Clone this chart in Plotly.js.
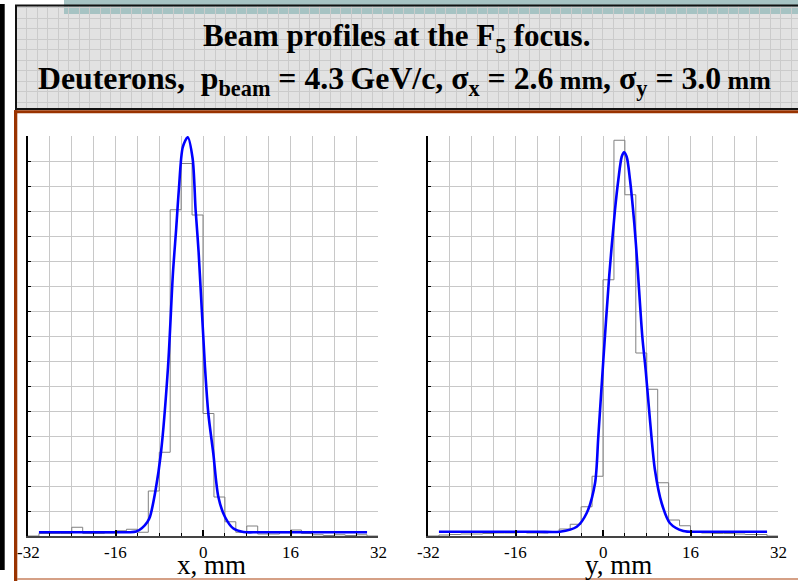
<!DOCTYPE html>
<html>
<head>
<meta charset="utf-8">
<script src="https://cdn.plot.ly/plotly-3.0.1.min.js"></script>
<style>html,body{margin:0;padding:0;background:#fff;}#chart{width:798px;height:581px;}</style>
</head>
<body>
<div id="chart"></div>
<script>
// ---- data ----
const binStart = -32;
const binWidth = 2;
const xHist = [0, 0.1, 0.1, 0.1, 0.35, 0.1, 0.1, 0.12, 0.21, 0.27, 0.15, 1.8, 3.35, 13.05, 14.9, 12.84,
               4.9, 1.56, 0.57, 0.15, 0.4, 0.08, 0.08, 0.13, 0.24, 0.1, 0.05, 0.02, 0.05, 0.02, 0.05, 0];
const yHist = [0, 0.04, 0.06, 0.08, 0.08, 0.1, 0.12, 0.12, 0.17, 0.12, 0.12, 0.15, 0.28, 0.47, 1.17, 2.39,
               10.25, 15.83, 13.65, 7.32, 5.87, 2.13, 0.64, 0.41, 0.15, 0.12, 0.1, 0.1, 0.08, 0.06, 0.06, 0];

const xFitPos = [-30, -22, -16, -13.5, -12.2, -11.2, -10.2, -9.7, -8.7, -7.7, -6.4, -5.5, -4.9, -4.4, -3.7,
                 -2.8, -1.9, -1.35, -0.8, 0.35, 0.97, 1.88, 2.8, 4.0, 5.5, 7.4, 10, 16, 22, 30];
const xFitVal = [0.15, 0.15, 0.15, 0.15, 0.18, 0.31, 0.55, 0.77, 1.8, 3.31, 6.75, 10.5, 12.3, 13.9, 15.55,
                 15.95, 15.1, 13.04, 11.35, 6.8, 4.91, 3.31, 1.57, 0.77, 0.31, 0.16, 0.15, 0.15, 0.15, 0.15];
const yFitPos = [-30, -20, -12, -7.9, -4.8, -3.0, -1.46, -0.86, 0.05, 1.16, 2.19, 2.8, 3.42, 3.84, 4.33,
                 4.94, 5.73, 6.27, 7.19, 7.8, 8.59, 9.5, 10.73, 12.25, 14.68, 18, 24, 30];
const yFitVal = [0.17, 0.17, 0.17, 0.17, 0.37, 0.91, 2.11, 3.97, 7.0, 10.47, 13.04, 14.24, 15.17, 15.35, 15.17,
                 14.24, 12.48, 10.91, 7.97, 6.64, 4.64, 2.64, 1.31, 0.51, 0.2, 0.17, 0.17, 0.17];

const xTickVals = [-32, -16, 0, 16, 32];
const xTickText = ['-32', '-16', '0', '16', '32'];
const titleLine1 = 'Beam profiles at the F<sub>5</sub> focus.';
const titleLine2 = 'Deuterons,\u00a0 p<sub>beam</sub> = 4.3\u2009GeV/c, \u03c3<sub>x</sub> = 2.6\u2009<span style="font-size:26px">mm</span>, \u03c3<sub>y</sub> = 3.0\u2009<span style="font-size:26px">mm</span>';
const xAxisTitle = 'x, mm';
const yAxisTitle = 'y, mm';

// ---- helpers ----
const W = 798, H = 581;
const SERIF = 'Liberation Serif';
const px = v => v / W;
const py = v => 1 - v / H;
function stepXY(values) {
  const xs = [], ys = [];
  for (let i = 0; i < values.length; i++) { xs.push(binStart + i * binWidth); ys.push(values[i]); }
  xs.push(binStart + values.length * binWidth); ys.push(values[values.length - 1]);
  return {xs, ys};
}
const hx = stepXY(xHist), hy = stepXY(yHist);

const histLine = {color: '#808080', width: 1, shape: 'hv'};
const fitLine = {color: '#0000ff', width: 2.6, shape: 'spline', smoothing: 0.8};

const traces = [
  {type: 'scatter', mode: 'lines', x: hx.xs, y: hx.ys, line: histLine, xaxis: 'x', yaxis: 'y', hoverinfo: 'skip'},
  {type: 'scatter', mode: 'lines', x: xFitPos, y: xFitVal, line: fitLine, xaxis: 'x', yaxis: 'y'},
  {type: 'scatter', mode: 'lines', x: hy.xs, y: hy.ys, line: histLine, xaxis: 'x2', yaxis: 'y2', hoverinfo: 'skip'},
  {type: 'scatter', mode: 'lines', x: yFitPos, y: yFitVal, line: fitLine, xaxis: 'x2', yaxis: 'y2'},
  {type: 'scatter', mode: 'lines', x: [], y: [], xaxis: 'x3', yaxis: 'y3', hoverinfo: 'skip'}
];

const gridC = '#c8c8c8';
function xAx(d0, d1, anchor) {
  return {
    domain: [px(d0), px(d1)], anchor: anchor, range: [-32, 32], autorange: false,
    tickmode: 'array', tickvals: xTickVals, ticktext: xTickText, showticklabels: false,
    ticks: 'inside', ticklen: 6, tickwidth: 2, tickcolor: '#000',
    showgrid: true, gridcolor: gridC, gridwidth: 1, zeroline: false,
    minor: {dtick: 4, tick0: 0, ticks: 'inside', ticklen: 3, tickwidth: 1, tickcolor: '#000', showgrid: true, gridcolor: gridC, gridwidth: 1},
    showline: true, linecolor: '#444', linewidth: 1.5, fixedrange: true
  };
}
function yAx(anchor) {
  return {
    domain: [py(536), py(136)], anchor: anchor, range: [0, 16], autorange: false,
    dtick: 1, tick0: 0, ticks: 'inside', ticklen: 3, tickwidth: 1, tickcolor: '#000',
    showticklabels: false, showgrid: true, gridcolor: gridC, gridwidth: 1, zeroline: false,
    showline: true, linecolor: '#000', linewidth: 2, fixedrange: true
  };
}

// tick labels drawn as annotations placed through each axis scale
const tickFont = {family: SERIF, size: 17, color: '#000'};
const tickAnns = [];
['x', 'x2'].forEach(ax => {
  xTickVals.forEach((v, i) => {
    tickAnns.push({xref: ax, yref: 'paper', x: v, y: py(552), xanchor: 'center', yanchor: 'middle',
                   showarrow: false, text: xTickText[i], font: tickFont});
  });
});

const layout = {
  width: W, height: H, autosize: false,
  margin: {l: 0, r: 0, t: 0, b: 0, pad: 0},
  font: {family: SERIF, size: 17, color: '#000'},
  paper_bgcolor: '#ffffff', plot_bgcolor: 'rgba(0,0,0,0)',
  showlegend: false,
  xaxis: xAx(28, 378, 'y'),
  yaxis: yAx('x'),
  xaxis2: xAx(428, 778, 'y2'),
  yaxis2: yAx('x2'),
  xaxis3: {domain: [px(15), 1], anchor: 'y3', range: [0, 74.76], autorange: false, tick0: 0.12, dtick: 1,
           showgrid: true, gridcolor: '#cbcbcb', gridwidth: 1, zeroline: false, showticklabels: false, ticks: '', showline: false, fixedrange: true},
  yaxis3: {domain: [py(110), py(5)], anchor: 'x3', range: [0, 10], autorange: false, tick0: 0.75, dtick: 1,
           showgrid: true, gridcolor: '#cbcbcb', gridwidth: 1, zeroline: false, showticklabels: false, ticks: '', showline: false, fixedrange: true},
  shapes: [
    {type: 'rect', xref: 'paper', yref: 'paper', x0: px(15), x1: px(805), y0: py(110), y1: py(5), fillcolor: '#e2e2e2', line: {width: 0}, layer: 'below'},
    {type: 'rect', xref: 'paper', yref: 'paper', x0: px(64), x1: px(805), y0: py(14), y1: py(0), fillcolor: '#a6c3c3', line: {width: 0}, layer: 'below'},
    {type: 'rect', xref: 'paper', yref: 'paper', x0: px(16), x1: px(810), y0: py(109), y1: py(5.5), fillcolor: 'rgba(0,0,0,0)', line: {color: '#111', width: 2}, layer: 'above'},
    {type: 'rect', xref: 'paper', yref: 'paper', x0: px(14), x1: px(805), y0: py(113.3), y1: py(110.2), fillcolor: '#993300', line: {width: 0}, layer: 'above'},
    {type: 'rect', xref: 'paper', yref: 'paper', x0: px(14), x1: px(17.3), y0: py(585), y1: py(110.2), fillcolor: '#993300', line: {width: 0}, layer: 'above'},
    {type: 'line', xref: 'paper', yref: 'paper', x0: px(17), x1: px(805), y0: py(579), y1: py(579), line: {color: '#c7805e', width: 1.5}, layer: 'above'},
    {type: 'rect', xref: 'paper', yref: 'paper', x0: px(0), x1: px(4.7), y0: py(570), y1: py(4), fillcolor: '#000', line: {width: 0}, layer: 'above'}
  ],
  annotations: [
    {xref: 'paper', yref: 'paper', x: px(396.5), y: py(38), xanchor: 'center', yanchor: 'middle', showarrow: false,
     text: titleLine1, font: {family: SERIF, size: 31, weight: 'bold', color: '#000'}},
    {xref: 'paper', yref: 'paper', x: px(404.5), y: py(81), xanchor: 'center', yanchor: 'middle', showarrow: false,
     text: titleLine2, font: {family: SERIF, size: 31.8, weight: 'bold', color: '#000'}},
    {xref: 'paper', yref: 'paper', x: px(211.7), y: py(565), xanchor: 'center', yanchor: 'middle', showarrow: false,
     text: xAxisTitle, font: {family: SERIF, size: 27, color: '#000'}},
    {xref: 'paper', yref: 'paper', x: px(618.7), y: py(565), xanchor: 'center', yanchor: 'middle', showarrow: false,
     text: yAxisTitle, font: {family: SERIF, size: 27, color: '#000'}}
  ].concat(tickAnns)
};

Plotly.newPlot('chart', traces, layout, {staticPlot: true, displayModeBar: false});
</script>
</body>
</html>
